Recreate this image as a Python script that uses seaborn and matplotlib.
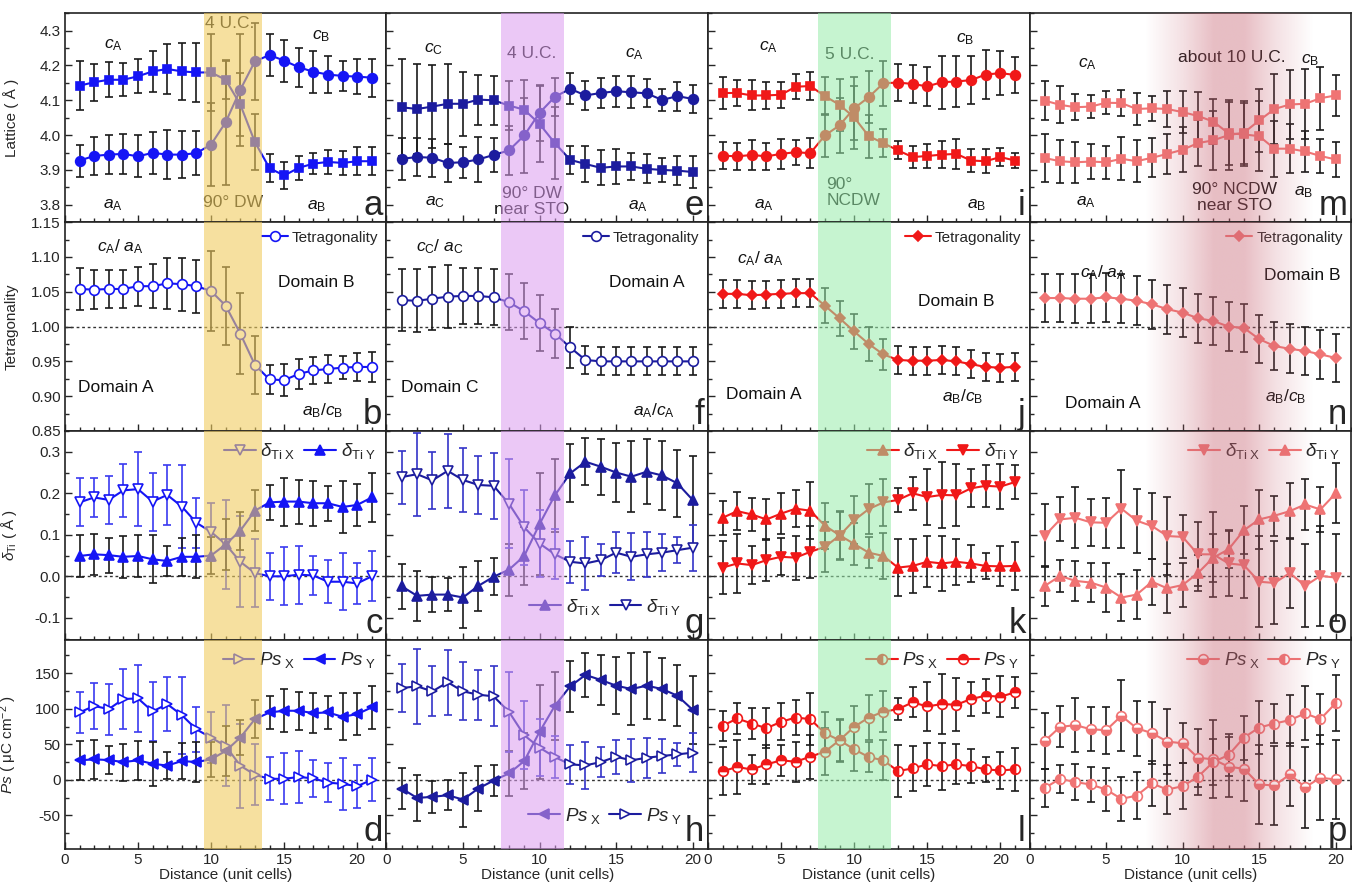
import matplotlib
matplotlib.use("Agg")
import matplotlib.pyplot as plt
import numpy as np
import seaborn as sns
from matplotlib.ticker import MultipleLocator, FormatStrFormatter

sns.set_style("ticks")
plt.rcParams["font.family"] = ["Liberation Sans", "DejaVu Sans"]
plt.rcParams["mathtext.fontset"] = "custom"
plt.rcParams["mathtext.rm"] = "Liberation Sans"
plt.rcParams["mathtext.it"] = "Liberation Sans:italic"
plt.rcParams["mathtext.bf"] = "Liberation Sans:bold"

# ---------------- data: column 1 (90° DW, 4 U.C.) ----------------
dist1 = np.arange(1, 22)
lat1_c = [4.142, 4.152, 4.159, 4.159, 4.169, 4.183, 4.190, 4.183, 4.180, 4.180, 4.159,
          4.088, 3.980, 3.905, 3.884, 3.906, 3.918, 3.923, 3.920, 3.925, 3.925]
lat1_c_err = [0.070, 0.053, 0.050, 0.048, 0.049, 0.060, 0.073, 0.082, 0.084, 0.110, 0.055,
              0.090, 0.080, 0.040, 0.040, 0.035, 0.030, 0.035, 0.035, 0.040, 0.040]
lat1_a = [3.927, 3.940, 3.944, 3.946, 3.939, 3.949, 3.944, 3.944, 3.948, 3.973, 4.037,
          4.130, 4.212, 4.230, 4.214, 4.195, 4.182, 4.174, 4.170, 4.168, 4.165]
lat1_a_err = [0.046, 0.056, 0.057, 0.057, 0.060, 0.060, 0.070, 0.068, 0.063, 0.120, 0.180,
              0.160, 0.110, 0.060, 0.060, 0.056, 0.060, 0.052, 0.042, 0.050, 0.055]
tet1 = [1.054, 1.053, 1.054, 1.054, 1.058, 1.058, 1.062, 1.061, 1.058, 1.051, 1.030,
        0.990, 0.945, 0.924, 0.923, 0.932, 0.937, 0.939, 0.941, 0.942, 0.942]
tet1_err = [0.030, 0.028, 0.027, 0.027, 0.028, 0.032, 0.037, 0.038, 0.038, 0.057, 0.056,
            0.058, 0.042, 0.021, 0.023, 0.021, 0.020, 0.020, 0.017, 0.020, 0.022]
dti1_x = [0.178, 0.190, 0.184, 0.207, 0.210, 0.180, 0.196, 0.168, 0.129, 0.107, 0.077,
          0.035, 0.008, 0.000, 0.000, 0.004, 0.002, -0.013, -0.013, -0.017, 0.000]
dti1_x_err = [0.058, 0.048, 0.058, 0.063, 0.090, 0.070, 0.073, 0.100, 0.060, 0.070, 0.108,
              0.110, 0.083, 0.056, 0.070, 0.070, 0.047, 0.052, 0.068, 0.050, 0.060]
dti1_y = [0.049, 0.053, 0.051, 0.047, 0.049, 0.041, 0.037, 0.047, 0.047, 0.050, 0.077,
          0.110, 0.158, 0.178, 0.180, 0.180, 0.176, 0.176, 0.167, 0.172, 0.190]
dti1_y_err = [0.050, 0.050, 0.042, 0.051, 0.050, 0.058, 0.036, 0.046, 0.052, 0.044, 0.062,
              0.046, 0.050, 0.043, 0.058, 0.053, 0.054, 0.042, 0.062, 0.050, 0.060]
ps1_x = [94.8, 104.0, 99.5, 113.7, 114.6, 96.2, 106.6, 91.0, 71.0, 59.4, 47.6,
         20.0, 7.0, 1.4, 1.4, 4.0, 2.0, -4.0, -5.7, -9.0, 0.0]
ps1_x_err = [29, 32, 36, 42, 47, 42, 38, 54, 32, 36, 57, 59, 43, 30, 36, 37, 26, 27, 37, 30, 30]
ps1_y = [27.4, 28.8, 27.8, 25.0, 27.4, 22.6, 20.0, 26.4, 25.0, 28.8, 40.6,
         59.4, 85.4, 94.8, 97.2, 97.2, 93.9, 94.8, 88.7, 92.5, 102.0]
ps1_y_err = [27, 27, 20, 26, 27, 31, 19, 25, 28, 25, 35, 25, 27, 23, 30, 27, 28, 23, 33, 30, 30]

# ---------------- data: column 2 (90° DW near STO, 4 U.C.) ----------------
dist2 = np.arange(1, 21)
lat2_c = [4.080, 4.075, 4.082, 4.090, 4.090, 4.102, 4.100, 4.085, 4.073, 4.032,
          3.977, 3.929, 3.917, 3.906, 3.910, 3.910, 3.903, 3.900, 3.898, 3.894]
lat2_c_err = [0.140, 0.130, 0.120, 0.115, 0.092, 0.072, 0.070, 0.070, 0.085, 0.110,
              0.103, 0.040, 0.052, 0.050, 0.050, 0.040, 0.042, 0.034, 0.042, 0.045]
lat2_a = [3.932, 3.937, 3.935, 3.920, 3.922, 3.930, 3.943, 3.956, 3.999, 4.064,
          4.110, 4.133, 4.114, 4.121, 4.126, 4.123, 4.120, 4.101, 4.112, 4.104]
lat2_a_err = [0.060, 0.055, 0.055, 0.055, 0.045, 0.065, 0.050, 0.070, 0.107, 0.080,
              0.055, 0.045, 0.042, 0.043, 0.045, 0.046, 0.040, 0.032, 0.042, 0.040]
tet2 = [1.038, 1.037, 1.040, 1.043, 1.044, 1.044, 1.042, 1.035, 1.022, 1.005,
        0.990, 0.970, 0.952, 0.950, 0.950, 0.950, 0.950, 0.950, 0.950, 0.950]
tet2_err = [0.045, 0.045, 0.045, 0.045, 0.040, 0.040, 0.040, 0.040, 0.040, 0.040,
            0.035, 0.030, 0.020, 0.020, 0.020, 0.020, 0.020, 0.020, 0.020, 0.020]
dti2_x = [-0.024, -0.047, -0.044, -0.044, -0.051, -0.023, -0.001, 0.016, 0.049, 0.126,
          0.195, 0.248, 0.276, 0.264, 0.250, 0.240, 0.252, 0.243, 0.224, 0.184]
dti2_x_err = [0.054, 0.060, 0.042, 0.040, 0.074, 0.061, 0.045, 0.063, 0.070, 0.124,
              0.088, 0.070, 0.057, 0.067, 0.070, 0.085, 0.079, 0.084, 0.080, 0.105]
dti2_y = [0.239, 0.246, 0.231, 0.254, 0.232, 0.220, 0.218, 0.175, 0.118, 0.079,
          0.053, 0.035, 0.031, 0.039, 0.057, 0.047, 0.053, 0.057, 0.063, 0.069]
dti2_y_err = [0.064, 0.100, 0.069, 0.089, 0.077, 0.070, 0.079, 0.107, 0.090, 0.080,
              0.060, 0.050, 0.063, 0.038, 0.050, 0.057, 0.054, 0.045, 0.031, 0.055]
ps2_x = [-12.3, -25.5, -24.0, -21.7, -27.8, -12.3, -1.0, 8.9, 26.4, 67.5,
         104.2, 131.6, 147.6, 140.6, 132.5, 127.8, 132.5, 127.8, 118.4, 98.6]
ps2_x_err = [29, 32, 23, 21, 38, 32, 22, 32, 40, 66, 48, 36, 31, 35, 40, 50, 47, 43, 43, 48]
ps2_y = [129.2, 131.6, 124.5, 137.3, 124.5, 119.8, 117.5, 95.8, 62.7, 45.3,
         32.0, 21.7, 20.3, 25.0, 32.5, 27.4, 31.1, 33.5, 35.8, 38.2]
ps2_y_err = [34, 53, 35, 46, 41, 35, 42, 56, 48, 40, 30, 27, 33, 21, 24, 30, 28, 24, 16, 27]

# ---------------- data: column 3 (90° NCDW, 5 U.C.) ----------------
dist3 = np.arange(1, 22)
lat3_c = [4.121, 4.121, 4.114, 4.114, 4.116, 4.139, 4.141, 4.112, 4.087, 4.051, 3.997,
          3.977, 3.956, 3.937, 3.940, 3.944, 3.946, 3.927, 3.925, 3.937, 3.927]
lat3_c_err = [0.045, 0.036, 0.043, 0.039, 0.038, 0.036, 0.039, 0.054, 0.075, 0.090, 0.062,
              0.041, 0.026, 0.031, 0.035, 0.038, 0.043, 0.034, 0.034, 0.026, 0.021]
lat3_a = [3.941, 3.939, 3.943, 3.939, 3.946, 3.951, 3.948, 3.999, 4.028, 4.077, 4.109,
          4.149, 4.151, 4.147, 4.140, 4.152, 4.154, 4.158, 4.174, 4.178, 4.173]
lat3_a_err = [0.039, 0.038, 0.042, 0.039, 0.042, 0.036, 0.043, 0.062, 0.080, 0.090, 0.075,
              0.064, 0.054, 0.055, 0.055, 0.076, 0.074, 0.069, 0.070, 0.064, 0.052]
tet3 = [1.047, 1.047, 1.045, 1.046, 1.047, 1.048, 1.048, 1.030, 1.012, 0.993, 0.975,
        0.960, 0.952, 0.951, 0.951, 0.952, 0.950, 0.946, 0.942, 0.941, 0.942]
tet3_err = [0.020, 0.020, 0.020, 0.020, 0.020, 0.020, 0.020, 0.025, 0.025, 0.025, 0.025,
            0.022, 0.020, 0.020, 0.020, 0.020, 0.020, 0.020, 0.020, 0.020, 0.020]
dti3_x = [0.141, 0.157, 0.149, 0.137, 0.151, 0.163, 0.158, 0.122, 0.099, 0.078, 0.057,
          0.049, 0.021, 0.025, 0.035, 0.031, 0.035, 0.031, 0.025, 0.024, 0.025]
dti3_x_err = [0.041, 0.045, 0.040, 0.050, 0.050, 0.044, 0.068, 0.055, 0.058, 0.050, 0.037,
              0.055, 0.068, 0.064, 0.061, 0.066, 0.055, 0.045, 0.032, 0.048, 0.057]
dti3_y = [0.021, 0.031, 0.027, 0.039, 0.047, 0.045, 0.059, 0.071, 0.098, 0.135, 0.162,
          0.178, 0.184, 0.200, 0.191, 0.196, 0.195, 0.212, 0.218, 0.216, 0.227]
dti3_y_err = [0.064, 0.070, 0.045, 0.051, 0.045, 0.053, 0.063, 0.060, 0.058, 0.058, 0.060,
              0.056, 0.029, 0.040, 0.068, 0.079, 0.075, 0.046, 0.051, 0.054, 0.040]
ps3_x = [76.0, 86.3, 79.2, 72.6, 81.6, 87.7, 85.4, 65.6, 55.7, 42.9, 32.0,
         27.4, 12.3, 16.0, 21.7, 19.3, 21.7, 19.3, 14.6, 13.2, 14.6]
ps3_x_err = [21, 22, 22, 28, 26, 24, 37, 30, 30, 30, 21, 28, 37, 32, 30, 33, 28, 24, 17, 26, 30]
ps3_y = [12.3, 17.9, 14.6, 21.7, 27.4, 25.5, 32.5, 39.6, 55.7, 74.5, 87.7,
         95.8, 99.5, 109.0, 103.3, 106.6, 105.7, 113.7, 118.4, 117.0, 123.0]
ps3_y_err = [34, 38, 21, 27, 22, 28, 31, 33, 29, 30, 31, 29, 15, 21, 34, 42, 37, 24, 24, 29, 22]

# ---------------- data: column 4 (90° NCDW near STO, ~10 U.C.) ----------------
dist4 = np.arange(1, 21)
lat4_c = [4.099, 4.087, 4.080, 4.082, 4.093, 4.092, 4.075, 4.077, 4.075, 4.066,
          4.055, 4.039, 4.005, 4.002, 3.997, 3.961, 3.961, 3.953, 3.940, 3.930]
lat4_c_err = [0.056, 0.053, 0.038, 0.034, 0.033, 0.038, 0.045, 0.036, 0.052, 0.061,
              0.070, 0.064, 0.090, 0.090, 0.100, 0.080, 0.070, 0.060, 0.050, 0.050]
lat4_a = [3.934, 3.925, 3.922, 3.924, 3.922, 3.932, 3.925, 3.935, 3.946, 3.958,
          3.977, 3.985, 4.000, 4.007, 4.042, 4.075, 4.088, 4.090, 4.106, 4.114]
lat4_a_err = [0.070, 0.062, 0.059, 0.050, 0.048, 0.062, 0.060, 0.056, 0.057, 0.065,
              0.067, 0.085, 0.100, 0.090, 0.090, 0.100, 0.100, 0.100, 0.090, 0.060]
tet4 = [1.041, 1.041, 1.040, 1.040, 1.042, 1.040, 1.037, 1.032, 1.025, 1.020,
        1.012, 1.008, 1.000, 0.998, 0.982, 0.972, 0.968, 0.965, 0.960, 0.955]
tet4_err = [0.035, 0.035, 0.035, 0.035, 0.035, 0.035, 0.035, 0.035, 0.035, 0.035,
            0.035, 0.035, 0.035, 0.035, 0.035, 0.035, 0.035, 0.035, 0.035, 0.035]
dti4_x = [0.098, 0.137, 0.141, 0.130, 0.129, 0.163, 0.134, 0.121, 0.097, 0.095,
          0.053, 0.053, 0.031, 0.027, -0.013, -0.016, 0.008, -0.023, 0.001, -0.003]
dti4_x_err = [0.076, 0.053, 0.073, 0.057, 0.060, 0.094, 0.077, 0.080, 0.094, 0.052,
              0.077, 0.103, 0.078, 0.080, 0.110, 0.100, 0.085, 0.100, 0.120, 0.105]
dti4_y = [-0.023, 0.001, -0.011, -0.015, -0.027, -0.051, -0.044, -0.013, -0.029, -0.021,
          0.008, 0.045, 0.065, 0.111, 0.137, 0.146, 0.157, 0.173, 0.161, 0.200]
dti4_y_err = [0.048, 0.039, 0.048, 0.047, 0.058, 0.057, 0.059, 0.055, 0.059, 0.054,
              0.043, 0.058, 0.046, 0.058, 0.070, 0.048, 0.068, 0.062, 0.055, 0.072]
ps4_x = [54.7, 74.5, 76.9, 71.2, 69.8, 90.0, 72.6, 65.6, 53.8, 51.4,
         31.1, 28.8, 18.4, 15.6, -6.6, -8.0, 7.5, -10.4, 2.8, 0.5]
ps4_x_err = [40, 29, 38, 31, 33, 50, 39, 44, 46, 28, 41, 55, 42, 45, 55, 55, 45, 57, 60, 55]
ps4_y = [-11.3, 1.4, -3.3, -6.6, -13.7, -26.9, -22.2, -5.2, -13.7, -9.0,
         4.2, 25.0, 34.9, 59.4, 73.6, 79.2, 84.0, 93.4, 85.4, 108.0]
ps4_y_err = [27, 20, 25, 24, 30, 31, 33, 31, 34, 32, 25, 33, 30, 31, 37, 27, 36, 38, 35, 40]

row_ylims = [(3.75, 4.35), (0.85, 1.15), (-0.153, 0.35), (-97, 197)]
row_major = [0.1, 0.05, 0.1, 50]
row_minor = [0.05, 0.025, 0.05, 25]
row_fmt = ["%.1f", "%.2f", "%.1f", "%d"]
row_labels = ["Lattice ( Å )", "Tetragonality", r"$\delta_{\mathrm{Ti}}$ ( Å )",
              r"$Ps$ ( μC cm$^{-2}$ )"]
zero_lines = [None, 1.0, 0.0, 0.0]
letters = ["abcd", "efgh", "ijkl", "mnop"]

dx_lab = r"$\delta_{\mathrm{Ti\ X}}$"
dy_lab = r"$\delta_{\mathrm{Ti\ Y}}$"
px_lab = r"$Ps_{\mathrm{\ X}}$"
py_lab = r"$Ps_{\mathrm{\ Y}}$"

UR = ("upper right", (1.0, 1.0))
LR = ("lower right", (0.95, 0.06))

# series: (y, err, marker, face, fill, err colour, label)
columns = [
    dict(x=dist1, xmax=22, col="#1515f5", eb="#3a3af0",
         shade=("span", 9.5, 13.5, "#f0cc60", 0.6),
         rows=[[(lat1_c, lat1_c_err, "s", "c", "full", "k", None),
                (lat1_a, lat1_a_err, "o", "c", "full", "k", None)],
               [(tet1, tet1_err, "o", "w", "full", "k", "Tetragonality")],
               [(dti1_x, dti1_x_err, "v", "w", "full", "b", dx_lab),
                (dti1_y, dti1_y_err, "^", "c", "full", "k", dy_lab)],
               [(ps1_x, ps1_x_err, ">", "w", "full", "b", px_lab),
                (ps1_y, ps1_y_err, "<", "c", "full", "k", py_lab)]],
         legloc=[None, UR, UR, UR]),
    dict(x=dist2, xmax=21, col="#1c1c9e", eb="#3434c8",
         shade=("span", 7.5, 11.6, "#dc9cf0", 0.55),
         rows=[[(lat2_c, lat2_c_err, "s", "c", "full", "k", None),
                (lat2_a, lat2_a_err, "o", "c", "full", "k", None)],
               [(tet2, tet2_err, "o", "w", "full", "k", "Tetragonality")],
               [(dti2_x, dti2_x_err, "^", "c", "full", "k", dx_lab),
                (dti2_y, dti2_y_err, "v", "w", "full", "b", dy_lab)],
               [(ps2_x, ps2_x_err, "<", "c", "full", "k", px_lab),
                (ps2_y, ps2_y_err, ">", "w", "full", "b", py_lab)]],
         legloc=[None, UR, LR, LR]),
    dict(x=dist3, xmax=22, col="#f01818", eb="k",
         shade=("span", 7.5, 12.5, "#98ecaa", 0.55),
         rows=[[(lat3_c, lat3_c_err, "s", "c", "full", "k", None),
                (lat3_a, lat3_a_err, "o", "c", "full", "k", None)],
               [(tet3, tet3_err, "D", "c", "full", "k", "Tetragonality")],
               [(dti3_x, dti3_x_err, "^", "c", "full", "k", dx_lab),
                (dti3_y, dti3_y_err, "v", "c", "full", "k", dy_lab)],
               [(ps3_x, ps3_x_err, "o", "c", "left", "k", px_lab),
                (ps3_y, ps3_y_err, "o", "c", "top", "k", py_lab)]],
         legloc=[None, UR, UR, UR]),
    dict(x=dist4, xmax=21, col="#f07474", eb="k",
         shade=("grad",),
         rows=[[(lat4_c, lat4_c_err, "s", "c", "full", "k", None),
                (lat4_a, lat4_a_err, "s", "c", "full", "k", None)],
               [(tet4, tet4_err, "D", "c", "full", "k", "Tetragonality")],
               [(dti4_x, dti4_x_err, "v", "c", "full", "k", dx_lab),
                (dti4_y, dti4_y_err, "^", "c", "full", "k", dy_lab)],
               [(ps4_x, ps4_x_err, "o", "c", "bottom", "k", px_lab),
                (ps4_y, ps4_y_err, "o", "c", "left", "k", py_lab)]],
         legloc=[None, UR, UR, UR]),
]

# annotations per column / row: (x, y, text, ha)
notes = [
    [[(3.3, 4.257, r"$c_{\mathrm{A}}$", "center"), (17.5, 4.285, r"$c_{\mathrm{B}}$", "center"),
      (3.3, 3.80, r"$a_{\mathrm{A}}$", "center"), (17.2, 3.797, r"$a_{\mathrm{B}}$", "center"),
      (11.3, 4.32, "4 U.C.", "center"), (11.5, 3.807, "90° DW", "center")],
     [(3.8, 1.115, r"$c_{\mathrm{A}}$/ $a_{\mathrm{A}}$", "center"), (17.2, 1.063, "Domain B", "center"),
      (3.5, 0.912, "Domain A", "center"), (17.6, 0.879, r"$a_{\mathrm{B}}$/$c_{\mathrm{B}}$", "center")]],
    [[(3.1, 4.247, r"$c_{\mathrm{C}}$", "center"), (16.2, 4.234, r"$c_{\mathrm{A}}$", "center"),
      (3.2, 3.807, r"$a_{\mathrm{C}}$", "center"), (16.4, 3.797, r"$a_{\mathrm{A}}$", "center"),
      (9.5, 4.234, "4 U.C.", "center"), (9.5, 3.81, "90° DW\nnear STO", "center")],
     [(3.5, 1.115, r"$c_{\mathrm{C}}$/ $a_{\mathrm{C}}$", "center"), (17.0, 1.063, "Domain A", "center"),
      (3.5, 0.912, "Domain C", "center"), (17.5, 0.879, r"$a_{\mathrm{A}}$/$c_{\mathrm{A}}$", "center")]],
    [[(4.15, 4.252, r"$c_{\mathrm{A}}$", "center"), (17.6, 4.276, r"$c_{\mathrm{B}}$", "center"),
      (3.8, 3.80, r"$a_{\mathrm{A}}$", "center"), (18.4, 3.80, r"$a_{\mathrm{B}}$", "center"),
      (9.7, 4.233, "5 U.C.", "center"), (8.1, 3.835, "90°\nNCDW", "left")],
     [(3.6, 1.098, r"$c_{\mathrm{A}}$/ $a_{\mathrm{A}}$", "center"), (17.0, 1.036, "Domain B", "center"),
      (3.8, 0.903, "Domain A", "center"), (17.4, 0.90, r"$a_{\mathrm{B}}$/$c_{\mathrm{B}}$", "center")]],
    [[(3.8, 4.204, r"$c_{\mathrm{A}}$", "center"), (13.2, 4.223, "about 10 U.C.", "center"),
      (18.3, 4.214, r"$c_{\mathrm{B}}$", "center"), (3.7, 3.807, r"$a_{\mathrm{A}}$", "center"),
      (13.4, 3.82, "90° NCDW\nnear STO", "center"), (17.9, 3.835, r"$a_{\mathrm{B}}$", "center")],
     [(4.8, 1.078, r"$c_{\mathrm{A}}$/ $a_{\mathrm{A}}$", "center"), (17.8, 1.074, "Domain B", "center"),
      (4.8, 0.89, "Domain A", "center"), (16.7, 0.90, r"$a_{\mathrm{B}}$/$c_{\mathrm{B}}$", "center")]],
]

fig = plt.figure(figsize=(13.52, 8.85), dpi=100)
gs = fig.add_gridspec(4, 4, left=0.048, right=0.9993, top=0.985, bottom=0.041,
                      wspace=0, hspace=0)

for ci, cfg in enumerate(columns):
    x = cfg["x"]
    for ri in range(4):
        ax = fig.add_subplot(gs[ri, ci])
        ylo, yhi = row_ylims[ri]
        if zero_lines[ri] is not None:
            ax.axhline(zero_lines[ri], color="#333333", lw=1.0, ls=(0, (2, 2)), zorder=1)
        for (y, err, mk, face, fill, ecol, lab) in cfg["rows"][ri]:
            ec = cfg["eb"] if ecol == "b" else "#1a1a1a"
            ax.errorbar(x, y, yerr=err, fmt="none", ecolor=ec, elinewidth=1.2,
                        capsize=3, capthick=1.2, zorder=2)
            fc = "white" if face == "w" else cfg["col"]
            ms = {"s": 6.2, "D": 5.6}.get(mk, 7.0)
            sns.lineplot(x=x, y=y, ax=ax, color=cfg["col"], linewidth=1.5,
                         marker=mk, markersize=ms, markerfacecolor=fc,
                         markeredgecolor=cfg["col"], markeredgewidth=1.2,
                         fillstyle=fill, markerfacecoloralt="white",
                         label=lab, zorder=3)
        if cfg["legloc"][ri]:
            loc, anchor = cfg["legloc"][ri]
            fs = 11 if ri == 1 else 13.5
            leg = ax.legend(loc=loc, bbox_to_anchor=anchor, ncol=2, frameon=False,
                            fontsize=fs, handlelength=1.7, handletextpad=0.25,
                            columnspacing=0.45, borderaxespad=0.15)
            leg.set_zorder(3)
        elif ax.get_legend() is not None:
            ax.get_legend().remove()

        # shaded wall region
        sh = cfg["shade"]
        if sh[0] == "span":
            ax.axvspan(sh[1], sh[2], color=sh[3], alpha=sh[4], lw=0, zorder=4)
        else:
            xs = np.linspace(0, cfg["xmax"], 500)
            alpha = np.interp(xs, [7.5, 10, 12, 14, 16, 18.5], [0, 0.2, 0.42, 0.42, 0.2, 0])
            rgba = np.zeros((2, xs.size, 4))
            rgba[..., 0] = 200 / 255
            rgba[..., 1] = 100 / 255
            rgba[..., 2] = 115 / 255
            rgba[..., 3] = alpha
            ax.imshow(rgba, extent=[0, cfg["xmax"], ylo, yhi], aspect="auto",
                      interpolation="bilinear", zorder=4)

        if ri < 2:
            for (tx, ty, s, ha) in notes[ci][ri]:
                ax.text(tx, ty, s, ha=ha, va="center", fontsize=12.5, color="#111111",
                        zorder=3, linespacing=1.1)

        ax.text(0.988, 0.035, letters[ci][ri], transform=ax.transAxes, ha="right",
                va="baseline", fontsize=25, zorder=6)

        ax.set_xlim(0, cfg["xmax"])
        ax.set_ylim(ylo, yhi)
        ax.xaxis.set_major_locator(MultipleLocator(5))
        ax.xaxis.set_minor_locator(MultipleLocator(1))
        ax.yaxis.set_major_locator(MultipleLocator(row_major[ri]))
        ax.yaxis.set_minor_locator(MultipleLocator(row_minor[ri]))
        ax.yaxis.set_major_formatter(FormatStrFormatter(row_fmt[ri]))
        ax.tick_params(which="both", direction="in", top=False, right=False,
                       labelsize=11, width=1.0, pad=3)
        ax.tick_params(which="major", length=5)
        ax.tick_params(which="minor", length=3)
        for sp in ax.spines.values():
            sp.set_linewidth(1.2)
            sp.set_color("#222222")
        ax.set_xlabel("")
        ax.set_ylabel("")
        if ri == 3:
            ax.set_xlabel("Distance (unit cells)", fontsize=11, labelpad=1)
        else:
            ax.tick_params(labelbottom=False)
        if ci == 0:
            ax.set_ylabel(row_labels[ri], fontsize=11)
            ax.yaxis.set_label_coords(-0.143, 0.5)
        else:
            ax.tick_params(labelleft=False)

plt.savefig("out.png", dpi=100)
